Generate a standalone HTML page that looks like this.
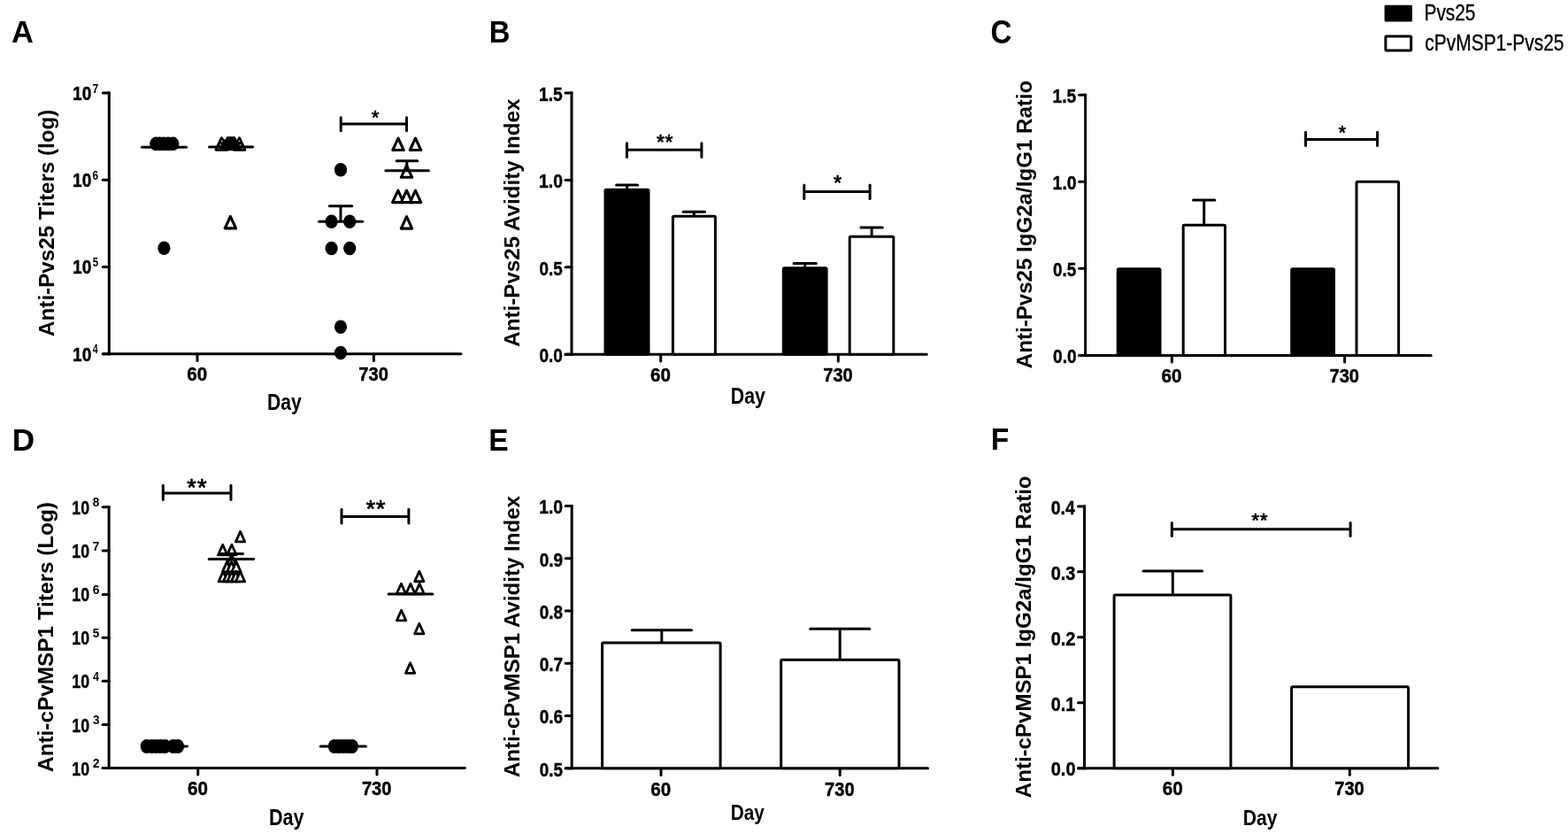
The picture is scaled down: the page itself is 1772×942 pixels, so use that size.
<!DOCTYPE html>
<html><head><meta charset="utf-8"><title>Anti-Pvs25 and anti-cPvMSP1 antibody responses</title>
<style>
html,body{margin:0;padding:0;background:#fff;}
body{width:1772px;height:942px;overflow:hidden;}
svg{display:block;}
svg text{font-family:"Liberation Sans", Arial, sans-serif;fill:#000;}
svg line{stroke:#000;}
svg rect,svg ellipse,svg path{fill:#000;}
svg .tri{fill:#fff;stroke:#000;stroke-linejoin:round;}
svg .wbar{fill:#fff;stroke:#000;stroke-linejoin:round;}
svg .bbar{fill:#000;stroke:#000;stroke-linejoin:round;}
svg .leg{stroke:#000;stroke-width:0.35px;}
svg .star{stroke:#000;stroke-width:0.7px;stroke-linejoin:round;}
</style></head>
<body>
<svg width="1772" height="942" viewBox="0 0 1772 942">
<rect width="1772" height="942" style="fill:#fff"/>
<text x="13.04" y="47.80" font-size="34.45" font-weight="bold" textLength="24.87" lengthAdjust="spacingAndGlyphs">A</text>
<line x1="123.30" y1="103.50" x2="123.30" y2="401.30" stroke-width="3.0" stroke-linecap="butt"/>
<line x1="116.30" y1="399.80" x2="521.10" y2="399.80" stroke-width="3.0" stroke-linecap="round"/>
<line x1="116.30" y1="399.80" x2="123.30" y2="399.80" stroke-width="3.0" stroke-linecap="round"/>
<line x1="116.30" y1="301.53" x2="123.30" y2="301.53" stroke-width="3.0" stroke-linecap="round"/>
<line x1="116.30" y1="203.27" x2="123.30" y2="203.27" stroke-width="3.0" stroke-linecap="round"/>
<line x1="116.30" y1="105.00" x2="123.30" y2="105.00" stroke-width="3.0" stroke-linecap="round"/>
<text x="82.12" y="407.51" font-size="22.39" font-weight="bold" textLength="21.35" lengthAdjust="spacingAndGlyphs" stroke="#000" stroke-width="0.45">10</text>
<text x="104.84" y="399.30" font-size="14.97" font-weight="bold" textLength="5.92" lengthAdjust="spacingAndGlyphs">4</text>
<text x="82.12" y="309.24" font-size="22.39" font-weight="bold" textLength="21.35" lengthAdjust="spacingAndGlyphs" stroke="#000" stroke-width="0.45">10</text>
<text x="104.65" y="300.89" font-size="14.76" font-weight="bold" textLength="6.37" lengthAdjust="spacingAndGlyphs">5</text>
<text x="82.12" y="210.97" font-size="22.39" font-weight="bold" textLength="21.35" lengthAdjust="spacingAndGlyphs" stroke="#000" stroke-width="0.45">10</text>
<text x="104.57" y="202.62" font-size="14.55" font-weight="bold" textLength="6.56" lengthAdjust="spacingAndGlyphs">6</text>
<text x="82.12" y="112.71" font-size="22.39" font-weight="bold" textLength="21.35" lengthAdjust="spacingAndGlyphs" stroke="#000" stroke-width="0.45">10</text>
<text x="104.48" y="104.50" font-size="14.97" font-weight="bold" textLength="6.76" lengthAdjust="spacingAndGlyphs">7</text>
<line x1="223.00" y1="399.80" x2="223.00" y2="407.40" stroke-width="3.0" stroke-linecap="round"/>
<line x1="422.40" y1="399.80" x2="422.40" y2="407.40" stroke-width="3.0" stroke-linecap="round"/>
<text x="211.27" y="429.55" font-size="22.53" font-weight="bold" textLength="22.95" lengthAdjust="spacingAndGlyphs" stroke="#000" stroke-width="0.45">60</text>
<text x="405.31" y="429.52" font-size="22.48" font-weight="bold" textLength="33.54" lengthAdjust="spacingAndGlyphs" stroke="#000" stroke-width="0.45">730</text>
<text x="301.99" y="462.76" font-size="25.24" font-weight="bold" textLength="38.62" lengthAdjust="spacingAndGlyphs">Day</text>
<text transform="translate(60.50,379.90) rotate(-90)" font-size="23.40" font-weight="bold" textLength="256.30" lengthAdjust="spacingAndGlyphs">Anti-Pvs25 Titers (log)</text>
<ellipse cx="176.30" cy="162.40" rx="7.1" ry="7.8"/>
<ellipse cx="180.50" cy="162.40" rx="7.1" ry="7.8"/>
<ellipse cx="185.00" cy="162.40" rx="7.1" ry="7.8"/>
<ellipse cx="190.00" cy="162.40" rx="7.1" ry="7.8"/>
<ellipse cx="195.30" cy="162.40" rx="7.1" ry="7.8"/>
<ellipse cx="185.40" cy="280.20" rx="7.1" ry="7.8"/>
<line x1="160.50" y1="166.20" x2="210.50" y2="166.20" stroke-width="3.0" stroke-linecap="round"/>
<path d="M250.30,155.79L244.11,169.20L256.50,169.20Z" class="tri" stroke-width="3.1"/>
<path d="M270.50,155.79L264.31,169.20L276.69,169.20Z" class="tri" stroke-width="3.1"/>
<path d="M244.2,170.3 L249.5,156.5 L252.8,156.5 L254.2,158.0 L256.3,154.2 L265.6,154.2 L267.6,158.0 L269.0,156.5 L272.0,156.5 L277.0,170.3 Z"/>
<circle cx="250.6" cy="159.4" r="1.0" fill="#aaa"/>
<circle cx="249.3" cy="164.0" r="1.0" fill="#aaa"/>
<circle cx="247.2" cy="167.4" r="1.0" fill="#aaa"/>
<circle cx="270.3" cy="159.4" r="1.0" fill="#aaa"/>
<circle cx="271.7" cy="164.0" r="1.0" fill="#aaa"/>
<circle cx="273.7" cy="167.4" r="1.0" fill="#aaa"/>
<path d="M260.40,244.49L254.20,257.90L266.59,257.90Z" class="tri" stroke-width="3.1"/>
<line x1="236.50" y1="166.00" x2="285.60" y2="166.00" stroke-width="3.0" stroke-linecap="round"/>
<ellipse cx="385.00" cy="191.70" rx="7.1" ry="7.8"/>
<ellipse cx="374.60" cy="250.30" rx="7.1" ry="7.8"/>
<ellipse cx="395.20" cy="250.30" rx="7.1" ry="7.8"/>
<ellipse cx="374.60" cy="280.50" rx="7.1" ry="7.8"/>
<ellipse cx="395.20" cy="280.50" rx="7.1" ry="7.8"/>
<ellipse cx="385.00" cy="369.20" rx="7.1" ry="7.8"/>
<ellipse cx="385.00" cy="398.50" rx="7.1" ry="7.8"/>
<line x1="360.50" y1="250.30" x2="409.70" y2="250.30" stroke-width="3.0" stroke-linecap="round"/>
<line x1="385.00" y1="250.30" x2="385.00" y2="232.70" stroke-width="3.0" stroke-linecap="butt"/>
<line x1="372.40" y1="232.70" x2="397.80" y2="232.70" stroke-width="3.0" stroke-linecap="round"/>
<path d="M450.00,156.09L443.81,169.50L456.19,169.50Z" class="tri" stroke-width="3.1"/>
<path d="M469.50,156.09L463.31,169.50L475.69,169.50Z" class="tri" stroke-width="3.1"/>
<path d="M459.50,186.89L453.31,200.30L465.69,200.30Z" class="tri" stroke-width="3.1"/>
<path d="M449.80,215.19L443.61,228.60L456.00,228.60Z" class="tri" stroke-width="3.1"/>
<path d="M459.50,215.19L453.31,228.60L465.69,228.60Z" class="tri" stroke-width="3.1"/>
<path d="M469.50,215.19L463.31,228.60L475.69,228.60Z" class="tri" stroke-width="3.1"/>
<path d="M459.50,244.69L453.31,258.10L465.69,258.10Z" class="tri" stroke-width="3.1"/>
<line x1="435.90" y1="192.80" x2="484.40" y2="192.80" stroke-width="3.0" stroke-linecap="round"/>
<line x1="459.80" y1="192.80" x2="459.80" y2="181.70" stroke-width="3.0" stroke-linecap="butt"/>
<line x1="448.20" y1="181.70" x2="471.70" y2="181.70" stroke-width="3.0" stroke-linecap="round"/>
<line x1="385.20" y1="139.90" x2="459.50" y2="139.90" stroke-width="3.0" stroke-linecap="butt"/>
<line x1="385.20" y1="132.80" x2="385.20" y2="147.80" stroke-width="3.0" stroke-linecap="round"/>
<line x1="459.50" y1="132.80" x2="459.50" y2="147.80" stroke-width="3.0" stroke-linecap="round"/>
<text x="419.79" y="140.14" font-size="22.22" font-weight="normal" letter-spacing="0.00" class="star">*</text>
<text x="552.71" y="47.80" font-size="34.45" font-weight="bold" textLength="23.68" lengthAdjust="spacingAndGlyphs">B</text>
<line x1="646.00" y1="103.50" x2="646.00" y2="401.80" stroke-width="3.0" stroke-linecap="butt"/>
<line x1="639.00" y1="400.30" x2="1047.10" y2="400.30" stroke-width="3.0" stroke-linecap="round"/>
<line x1="639.00" y1="105.00" x2="646.00" y2="105.00" stroke-width="3.0" stroke-linecap="round"/>
<line x1="639.00" y1="203.43" x2="646.00" y2="203.43" stroke-width="3.0" stroke-linecap="round"/>
<line x1="639.00" y1="301.87" x2="646.00" y2="301.87" stroke-width="3.0" stroke-linecap="round"/>
<line x1="639.00" y1="400.30" x2="646.00" y2="400.30" stroke-width="3.0" stroke-linecap="round"/>
<text x="609.02" y="113.75" font-size="22.86" font-weight="bold" textLength="26.69" lengthAdjust="spacingAndGlyphs" stroke="#000" stroke-width="0.45">1.5</text>
<text x="609.00" y="212.19" font-size="22.53" font-weight="bold" textLength="26.97" lengthAdjust="spacingAndGlyphs" stroke="#000" stroke-width="0.45">1.0</text>
<text x="609.48" y="310.62" font-size="22.53" font-weight="bold" textLength="26.22" lengthAdjust="spacingAndGlyphs" stroke="#000" stroke-width="0.45">0.5</text>
<text x="609.47" y="409.05" font-size="22.53" font-weight="bold" textLength="26.48" lengthAdjust="spacingAndGlyphs" stroke="#000" stroke-width="0.45">0.0</text>
<line x1="746.70" y1="400.30" x2="746.70" y2="407.90" stroke-width="3.0" stroke-linecap="round"/>
<line x1="947.30" y1="400.30" x2="947.30" y2="407.90" stroke-width="3.0" stroke-linecap="round"/>
<rect x="684.00" y="214.30" width="49.00" height="186.00" rx="1.2" class="bbar" stroke-width="3.0"/>
<rect x="760.40" y="244.20" width="48.00" height="156.10" rx="1.2" class="wbar" stroke-width="3.0"/>
<rect x="885.30" y="302.70" width="48.80" height="97.60" rx="1.2" class="bbar" stroke-width="3.0"/>
<rect x="960.20" y="267.20" width="49.60" height="133.10" rx="1.2" class="wbar" stroke-width="3.0"/>
<line x1="708.60" y1="212.80" x2="708.60" y2="209.00" stroke-width="3.0" stroke-linecap="butt"/>
<line x1="696.60" y1="209.00" x2="720.60" y2="209.00" stroke-width="3.0" stroke-linecap="round"/>
<line x1="784.30" y1="244.20" x2="784.30" y2="239.20" stroke-width="3.0" stroke-linecap="butt"/>
<line x1="772.10" y1="239.20" x2="796.50" y2="239.20" stroke-width="3.0" stroke-linecap="round"/>
<line x1="909.70" y1="301.30" x2="909.70" y2="297.40" stroke-width="3.0" stroke-linecap="butt"/>
<line x1="897.10" y1="297.40" x2="922.30" y2="297.40" stroke-width="3.0" stroke-linecap="round"/>
<line x1="985.10" y1="267.20" x2="985.10" y2="257.10" stroke-width="3.0" stroke-linecap="butt"/>
<line x1="972.90" y1="257.10" x2="997.30" y2="257.10" stroke-width="3.0" stroke-linecap="round"/>
<line x1="708.40" y1="169.30" x2="792.90" y2="169.30" stroke-width="3.0" stroke-linecap="butt"/>
<line x1="708.40" y1="161.80" x2="708.40" y2="177.60" stroke-width="3.0" stroke-linecap="round"/>
<line x1="792.90" y1="161.80" x2="792.90" y2="177.60" stroke-width="3.0" stroke-linecap="round"/>
<text x="742.08" y="169.02" font-size="23.07" font-weight="normal" letter-spacing="0.37" class="star">**</text>
<line x1="908.80" y1="216.50" x2="983.10" y2="216.50" stroke-width="3.0" stroke-linecap="butt"/>
<line x1="908.80" y1="209.00" x2="908.80" y2="224.60" stroke-width="3.0" stroke-linecap="round"/>
<line x1="983.10" y1="209.00" x2="983.10" y2="224.60" stroke-width="3.0" stroke-linecap="round"/>
<text x="941.97" y="215.42" font-size="23.64" font-weight="normal" letter-spacing="0.00" class="star">*</text>
<text x="734.97" y="430.95" font-size="22.53" font-weight="bold" textLength="22.95" lengthAdjust="spacingAndGlyphs" stroke="#000" stroke-width="0.45">60</text>
<text x="930.21" y="430.92" font-size="22.48" font-weight="bold" textLength="33.54" lengthAdjust="spacingAndGlyphs" stroke="#000" stroke-width="0.45">730</text>
<text x="825.77" y="455.96" font-size="25.24" font-weight="bold" textLength="39.14" lengthAdjust="spacingAndGlyphs">Day</text>
<text transform="translate(586.50,391.70) rotate(-90)" font-size="23.55" font-weight="bold" textLength="280.17" lengthAdjust="spacingAndGlyphs">Anti-Pvs25 Avidity Index</text>
<text x="1119.54" y="48.64" font-size="36.86" font-weight="bold" textLength="23.97" lengthAdjust="spacingAndGlyphs">C</text>
<line x1="1226.60" y1="105.70" x2="1226.60" y2="402.90" stroke-width="3.0" stroke-linecap="butt"/>
<line x1="1219.60" y1="401.40" x2="1617.20" y2="401.40" stroke-width="3.0" stroke-linecap="round"/>
<line x1="1219.60" y1="107.20" x2="1226.60" y2="107.20" stroke-width="3.0" stroke-linecap="round"/>
<line x1="1219.60" y1="205.27" x2="1226.60" y2="205.27" stroke-width="3.0" stroke-linecap="round"/>
<line x1="1219.60" y1="303.33" x2="1226.60" y2="303.33" stroke-width="3.0" stroke-linecap="round"/>
<line x1="1219.60" y1="401.40" x2="1226.60" y2="401.40" stroke-width="3.0" stroke-linecap="round"/>
<text x="1189.62" y="115.95" font-size="22.86" font-weight="bold" textLength="26.69" lengthAdjust="spacingAndGlyphs" stroke="#000" stroke-width="0.45">1.5</text>
<text x="1189.60" y="214.02" font-size="22.53" font-weight="bold" textLength="26.97" lengthAdjust="spacingAndGlyphs" stroke="#000" stroke-width="0.45">1.0</text>
<text x="1190.08" y="312.09" font-size="22.53" font-weight="bold" textLength="26.22" lengthAdjust="spacingAndGlyphs" stroke="#000" stroke-width="0.45">0.5</text>
<text x="1190.07" y="410.15" font-size="22.53" font-weight="bold" textLength="26.48" lengthAdjust="spacingAndGlyphs" stroke="#000" stroke-width="0.45">0.0</text>
<line x1="1324.30" y1="401.40" x2="1324.30" y2="409.00" stroke-width="3.0" stroke-linecap="round"/>
<line x1="1519.60" y1="401.40" x2="1519.60" y2="409.00" stroke-width="3.0" stroke-linecap="round"/>
<rect x="1263.20" y="303.80" width="47.80" height="97.60" rx="1.2" class="bbar" stroke-width="3.0"/>
<rect x="1337.20" y="254.30" width="47.30" height="147.10" rx="1.2" class="wbar" stroke-width="3.0"/>
<rect x="1459.70" y="303.70" width="47.80" height="97.70" rx="1.2" class="bbar" stroke-width="3.0"/>
<rect x="1533.00" y="205.27" width="47.60" height="196.13" rx="1.2" class="wbar" stroke-width="3.0"/>
<line x1="1360.70" y1="254.30" x2="1360.70" y2="226.10" stroke-width="3.0" stroke-linecap="butt"/>
<line x1="1348.50" y1="226.10" x2="1372.90" y2="226.10" stroke-width="3.0" stroke-linecap="round"/>
<line x1="1475.50" y1="157.60" x2="1556.60" y2="157.60" stroke-width="3.0" stroke-linecap="butt"/>
<line x1="1475.50" y1="149.20" x2="1475.50" y2="164.60" stroke-width="3.0" stroke-linecap="round"/>
<line x1="1556.60" y1="149.20" x2="1556.60" y2="164.60" stroke-width="3.0" stroke-linecap="round"/>
<text x="1512.49" y="157.04" font-size="22.22" font-weight="normal" letter-spacing="0.00" class="star">*</text>
<text x="1312.57" y="431.75" font-size="22.53" font-weight="bold" textLength="22.95" lengthAdjust="spacingAndGlyphs" stroke="#000" stroke-width="0.45">60</text>
<text x="1502.51" y="431.72" font-size="22.48" font-weight="bold" textLength="33.54" lengthAdjust="spacingAndGlyphs" stroke="#000" stroke-width="0.45">730</text>
<text transform="translate(1165.60,416.20) rotate(-90)" font-size="23.84" font-weight="bold" textLength="325.44" lengthAdjust="spacingAndGlyphs">Anti-Pvs25 IgG2a/IgG1 Ratio</text>
<rect x="1564.6" y="5.8" width="31.4" height="18.6" rx="1.5"/>
<rect x="1565.9" y="41.0" width="28.8" height="16.0" rx="1" class="wbar" stroke-width="3.0"/>
<text x="1609.49" y="23.05" font-size="25.85" font-weight="normal" textLength="57.99" lengthAdjust="spacingAndGlyphs" class="leg">Pvs25</text>
<text x="1610.31" y="56.55" font-size="25.85" font-weight="normal" textLength="157.17" lengthAdjust="spacingAndGlyphs" class="leg">cPvMSP1-Pvs25</text>
<text x="13.74" y="508.60" font-size="35.03" font-weight="bold" textLength="25.44" lengthAdjust="spacingAndGlyphs">D</text>
<line x1="123.10" y1="571.30" x2="123.10" y2="869.00" stroke-width="3.0" stroke-linecap="butt"/>
<line x1="116.10" y1="867.50" x2="525.30" y2="867.50" stroke-width="3.0" stroke-linecap="round"/>
<line x1="116.10" y1="867.50" x2="123.10" y2="867.50" stroke-width="3.0" stroke-linecap="round"/>
<line x1="116.10" y1="818.50" x2="123.10" y2="818.50" stroke-width="3.0" stroke-linecap="round"/>
<line x1="116.10" y1="769.20" x2="123.10" y2="769.20" stroke-width="3.0" stroke-linecap="round"/>
<line x1="116.10" y1="720.30" x2="123.10" y2="720.30" stroke-width="3.0" stroke-linecap="round"/>
<line x1="116.10" y1="671.40" x2="123.10" y2="671.40" stroke-width="3.0" stroke-linecap="round"/>
<line x1="116.10" y1="622.00" x2="123.10" y2="622.00" stroke-width="3.0" stroke-linecap="round"/>
<line x1="116.10" y1="572.80" x2="123.10" y2="572.80" stroke-width="3.0" stroke-linecap="round"/>
<text x="81.30" y="875.56" font-size="21.68" font-weight="bold" textLength="19.80" lengthAdjust="spacingAndGlyphs" stroke="#000" stroke-width="0.45">10</text>
<text x="104.72" y="867.30" font-size="14.04" font-weight="bold" textLength="7.74" lengthAdjust="spacingAndGlyphs">2</text>
<text x="81.30" y="826.56" font-size="21.68" font-weight="bold" textLength="19.80" lengthAdjust="spacingAndGlyphs" stroke="#000" stroke-width="0.45">10</text>
<text x="104.89" y="818.14" font-size="13.81" font-weight="bold" textLength="7.50" lengthAdjust="spacingAndGlyphs">3</text>
<text x="81.30" y="777.26" font-size="21.68" font-weight="bold" textLength="19.80" lengthAdjust="spacingAndGlyphs" stroke="#000" stroke-width="0.45">10</text>
<text x="105.01" y="769.00" font-size="14.24" font-weight="bold" textLength="6.96" lengthAdjust="spacingAndGlyphs">4</text>
<text x="81.30" y="728.36" font-size="21.68" font-weight="bold" textLength="19.80" lengthAdjust="spacingAndGlyphs" stroke="#000" stroke-width="0.45">10</text>
<text x="104.79" y="719.96" font-size="14.05" font-weight="bold" textLength="7.49" lengthAdjust="spacingAndGlyphs">5</text>
<text x="81.30" y="679.46" font-size="21.68" font-weight="bold" textLength="19.80" lengthAdjust="spacingAndGlyphs" stroke="#000" stroke-width="0.45">10</text>
<text x="104.69" y="671.06" font-size="13.84" font-weight="bold" textLength="7.71" lengthAdjust="spacingAndGlyphs">6</text>
<text x="81.30" y="630.06" font-size="21.68" font-weight="bold" textLength="19.80" lengthAdjust="spacingAndGlyphs" stroke="#000" stroke-width="0.45">10</text>
<text x="104.59" y="621.80" font-size="14.24" font-weight="bold" textLength="7.94" lengthAdjust="spacingAndGlyphs">7</text>
<text x="81.30" y="580.86" font-size="21.68" font-weight="bold" textLength="19.80" lengthAdjust="spacingAndGlyphs" stroke="#000" stroke-width="0.45">10</text>
<text x="104.77" y="572.46" font-size="13.84" font-weight="bold" textLength="7.55" lengthAdjust="spacingAndGlyphs">8</text>
<line x1="223.70" y1="867.50" x2="223.70" y2="875.10" stroke-width="3.0" stroke-linecap="round"/>
<line x1="426.00" y1="867.50" x2="426.00" y2="875.10" stroke-width="3.0" stroke-linecap="round"/>
<text x="211.97" y="898.15" font-size="22.53" font-weight="bold" textLength="22.95" lengthAdjust="spacingAndGlyphs" stroke="#000" stroke-width="0.45">60</text>
<text x="408.91" y="898.12" font-size="22.48" font-weight="bold" textLength="33.54" lengthAdjust="spacingAndGlyphs" stroke="#000" stroke-width="0.45">730</text>
<text x="303.95" y="931.56" font-size="25.24" font-weight="bold" textLength="39.66" lengthAdjust="spacingAndGlyphs">Day</text>
<text transform="translate(59.70,871.90) rotate(-90)" font-size="23.98" font-weight="bold" textLength="304.81" lengthAdjust="spacingAndGlyphs">Anti-cPvMSP1 Titers (Log)</text>
<ellipse cx="165.80" cy="843.00" rx="7.1" ry="8.1"/>
<ellipse cx="171.50" cy="843.00" rx="7.1" ry="8.1"/>
<ellipse cx="176.50" cy="843.00" rx="7.1" ry="8.1"/>
<ellipse cx="181.50" cy="843.00" rx="7.1" ry="8.1"/>
<ellipse cx="186.40" cy="843.00" rx="7.1" ry="8.1"/>
<ellipse cx="195.70" cy="843.00" rx="7.1" ry="8.1"/>
<ellipse cx="201.00" cy="843.00" rx="7.1" ry="8.1"/>
<line x1="161.00" y1="843.10" x2="211.50" y2="843.10" stroke-width="3.0" stroke-linecap="round"/>
<path d="M271.60,600.40L266.44,611.95L276.76,611.95Z" class="tri" stroke-width="2.8"/>
<path d="M251.70,615.20L246.54,626.75L256.86,626.75Z" class="tri" stroke-width="2.8"/>
<path d="M261.90,615.20L256.74,626.75L267.06,626.75Z" class="tri" stroke-width="2.8"/>
<path d="M261.70,626.40L256.54,637.95L266.86,637.95Z" class="tri" stroke-width="2.8"/>
<path d="M256.50,634.40L251.34,645.95L261.66,645.95Z" class="tri" stroke-width="2.8"/>
<path d="M261.70,634.40L256.54,645.95L266.86,645.95Z" class="tri" stroke-width="2.8"/>
<path d="M267.00,634.40L261.84,645.95L272.16,645.95Z" class="tri" stroke-width="2.8"/>
<path d="M252.20,645.40L247.04,656.95L257.36,656.95Z" class="tri" stroke-width="2.8"/>
<path d="M257.50,645.40L252.34,656.95L262.66,656.95Z" class="tri" stroke-width="2.8"/>
<path d="M262.00,645.40L256.84,656.95L267.16,656.95Z" class="tri" stroke-width="2.8"/>
<path d="M266.50,645.40L261.34,656.95L271.66,656.95Z" class="tri" stroke-width="2.8"/>
<path d="M271.50,645.40L266.34,656.95L276.66,656.95Z" class="tri" stroke-width="2.8"/>
<line x1="236.20" y1="631.60" x2="286.70" y2="631.60" stroke-width="3.0" stroke-linecap="round"/>
<line x1="261.70" y1="631.60" x2="261.70" y2="625.60" stroke-width="3.0" stroke-linecap="butt"/>
<line x1="249.20" y1="625.60" x2="274.50" y2="625.60" stroke-width="3.0" stroke-linecap="round"/>
<line x1="184.30" y1="556.90" x2="261.00" y2="556.90" stroke-width="3.0" stroke-linecap="butt"/>
<line x1="184.30" y1="548.20" x2="184.30" y2="564.50" stroke-width="3.0" stroke-linecap="round"/>
<line x1="261.00" y1="548.20" x2="261.00" y2="564.50" stroke-width="3.0" stroke-linecap="round"/>
<text x="211.31" y="559.67" font-size="27.06" font-weight="normal" letter-spacing="1.10" class="star">**</text>
<ellipse cx="377.90" cy="843.00" rx="7.1" ry="8.1"/>
<ellipse cx="382.80" cy="843.00" rx="7.1" ry="8.1"/>
<ellipse cx="388.00" cy="843.00" rx="7.1" ry="8.1"/>
<ellipse cx="393.20" cy="843.00" rx="7.1" ry="8.1"/>
<ellipse cx="397.90" cy="843.00" rx="7.1" ry="8.1"/>
<line x1="362.30" y1="843.10" x2="413.50" y2="843.10" stroke-width="3.0" stroke-linecap="round"/>
<path d="M473.80,645.20L468.64,656.75L478.96,656.75Z" class="tri" stroke-width="2.8"/>
<path d="M453.40,659.20L448.24,670.75L458.56,670.75Z" class="tri" stroke-width="2.8"/>
<path d="M464.00,659.20L458.84,670.75L469.16,670.75Z" class="tri" stroke-width="2.8"/>
<path d="M474.10,659.20L468.94,670.75L479.26,670.75Z" class="tri" stroke-width="2.8"/>
<path d="M453.60,689.30L448.44,700.85L458.76,700.85Z" class="tri" stroke-width="2.8"/>
<path d="M473.80,704.30L468.64,715.85L478.96,715.85Z" class="tri" stroke-width="2.8"/>
<path d="M463.60,748.80L458.44,760.35L468.76,760.35Z" class="tri" stroke-width="2.8"/>
<line x1="439.10" y1="671.10" x2="488.90" y2="671.10" stroke-width="3.0" stroke-linecap="round"/>
<line x1="386.00" y1="583.50" x2="461.90" y2="583.50" stroke-width="3.0" stroke-linecap="butt"/>
<line x1="386.00" y1="575.30" x2="386.00" y2="591.10" stroke-width="3.0" stroke-linecap="round"/>
<line x1="461.90" y1="575.30" x2="461.90" y2="591.10" stroke-width="3.0" stroke-linecap="round"/>
<text x="413.50" y="583.56" font-size="27.63" font-weight="normal" letter-spacing="0.47" class="star">**</text>
<text x="552.26" y="508.60" font-size="35.03" font-weight="bold" textLength="22.35" lengthAdjust="spacingAndGlyphs">E</text>
<line x1="646.20" y1="570.00" x2="646.20" y2="869.30" stroke-width="3.0" stroke-linecap="butt"/>
<line x1="639.20" y1="867.80" x2="1048.50" y2="867.80" stroke-width="3.0" stroke-linecap="round"/>
<line x1="639.20" y1="571.50" x2="646.20" y2="571.50" stroke-width="3.0" stroke-linecap="round"/>
<line x1="639.20" y1="630.76" x2="646.20" y2="630.76" stroke-width="3.0" stroke-linecap="round"/>
<line x1="639.20" y1="690.02" x2="646.20" y2="690.02" stroke-width="3.0" stroke-linecap="round"/>
<line x1="639.20" y1="749.28" x2="646.20" y2="749.28" stroke-width="3.0" stroke-linecap="round"/>
<line x1="639.20" y1="808.54" x2="646.20" y2="808.54" stroke-width="3.0" stroke-linecap="round"/>
<line x1="639.20" y1="867.80" x2="646.20" y2="867.80" stroke-width="3.0" stroke-linecap="round"/>
<text x="609.20" y="580.25" font-size="22.53" font-weight="bold" textLength="26.97" lengthAdjust="spacingAndGlyphs" stroke="#000" stroke-width="0.45">1.0</text>
<text x="609.67" y="639.51" font-size="22.53" font-weight="bold" textLength="26.41" lengthAdjust="spacingAndGlyphs" stroke="#000" stroke-width="0.45">0.9</text>
<text x="609.68" y="698.77" font-size="22.53" font-weight="bold" textLength="26.28" lengthAdjust="spacingAndGlyphs" stroke="#000" stroke-width="0.45">0.8</text>
<text x="609.67" y="758.03" font-size="22.53" font-weight="bold" textLength="26.54" lengthAdjust="spacingAndGlyphs" stroke="#000" stroke-width="0.45">0.7</text>
<text x="609.67" y="817.29" font-size="22.53" font-weight="bold" textLength="26.39" lengthAdjust="spacingAndGlyphs" stroke="#000" stroke-width="0.45">0.6</text>
<text x="609.68" y="876.55" font-size="22.53" font-weight="bold" textLength="26.22" lengthAdjust="spacingAndGlyphs" stroke="#000" stroke-width="0.45">0.5</text>
<line x1="747.00" y1="867.80" x2="747.00" y2="875.40" stroke-width="3.0" stroke-linecap="round"/>
<line x1="949.20" y1="867.80" x2="949.20" y2="875.40" stroke-width="3.0" stroke-linecap="round"/>
<rect x="680.60" y="726.10" width="133.50" height="141.70" rx="1.2" class="wbar" stroke-width="3.0"/>
<rect x="882.70" y="745.20" width="133.30" height="122.60" rx="1.2" class="wbar" stroke-width="3.0"/>
<line x1="747.80" y1="726.10" x2="747.80" y2="711.70" stroke-width="3.0" stroke-linecap="butt"/>
<line x1="714.10" y1="711.70" x2="781.50" y2="711.70" stroke-width="3.0" stroke-linecap="round"/>
<line x1="949.20" y1="745.20" x2="949.20" y2="710.20" stroke-width="3.0" stroke-linecap="butt"/>
<line x1="915.80" y1="710.20" x2="982.60" y2="710.20" stroke-width="3.0" stroke-linecap="round"/>
<text x="735.27" y="898.85" font-size="22.53" font-weight="bold" textLength="22.95" lengthAdjust="spacingAndGlyphs" stroke="#000" stroke-width="0.45">60</text>
<text x="932.11" y="898.82" font-size="22.48" font-weight="bold" textLength="33.54" lengthAdjust="spacingAndGlyphs" stroke="#000" stroke-width="0.45">730</text>
<text x="825.71" y="925.80" font-size="24.57" font-weight="bold" textLength="38.21" lengthAdjust="spacingAndGlyphs">Day</text>
<text transform="translate(586.70,878.10) rotate(-90)" font-size="23.84" font-weight="bold" textLength="318.07" lengthAdjust="spacingAndGlyphs">Anti-cPvMSP1 Avidity Index</text>
<text x="1119.66" y="508.40" font-size="34.74" font-weight="bold" textLength="20.47" lengthAdjust="spacingAndGlyphs">F</text>
<line x1="1225.50" y1="570.40" x2="1225.50" y2="869.20" stroke-width="3.0" stroke-linecap="butt"/>
<line x1="1218.50" y1="867.70" x2="1624.90" y2="867.70" stroke-width="3.0" stroke-linecap="round"/>
<line x1="1218.50" y1="571.90" x2="1225.50" y2="571.90" stroke-width="3.0" stroke-linecap="round"/>
<line x1="1218.50" y1="645.85" x2="1225.50" y2="645.85" stroke-width="3.0" stroke-linecap="round"/>
<line x1="1218.50" y1="719.80" x2="1225.50" y2="719.80" stroke-width="3.0" stroke-linecap="round"/>
<line x1="1218.50" y1="793.75" x2="1225.50" y2="793.75" stroke-width="3.0" stroke-linecap="round"/>
<line x1="1218.50" y1="867.70" x2="1225.50" y2="867.70" stroke-width="3.0" stroke-linecap="round"/>
<text x="1187.76" y="580.65" font-size="22.53" font-weight="bold" textLength="27.02" lengthAdjust="spacingAndGlyphs" stroke="#000" stroke-width="0.45">0.4</text>
<text x="1187.74" y="654.57" font-size="22.48" font-weight="bold" textLength="27.66" lengthAdjust="spacingAndGlyphs" stroke="#000" stroke-width="0.45">0.3</text>
<text x="1187.74" y="728.55" font-size="22.53" font-weight="bold" textLength="27.74" lengthAdjust="spacingAndGlyphs" stroke="#000" stroke-width="0.45">0.2</text>
<text x="1187.74" y="802.50" font-size="22.53" font-weight="bold" textLength="27.48" lengthAdjust="spacingAndGlyphs" stroke="#000" stroke-width="0.45">0.1</text>
<text x="1187.74" y="876.46" font-size="22.53" font-weight="bold" textLength="27.76" lengthAdjust="spacingAndGlyphs" stroke="#000" stroke-width="0.45">0.0</text>
<line x1="1325.40" y1="867.70" x2="1325.40" y2="875.30" stroke-width="3.0" stroke-linecap="round"/>
<line x1="1525.30" y1="867.70" x2="1525.30" y2="875.30" stroke-width="3.0" stroke-linecap="round"/>
<rect x="1259.10" y="672.10" width="131.80" height="195.60" rx="1.2" class="wbar" stroke-width="3.0"/>
<rect x="1459.60" y="775.80" width="132.00" height="91.90" rx="1.2" class="wbar" stroke-width="3.0"/>
<line x1="1325.30" y1="672.10" x2="1325.30" y2="644.90" stroke-width="3.0" stroke-linecap="butt"/>
<line x1="1292.00" y1="644.90" x2="1358.60" y2="644.90" stroke-width="3.0" stroke-linecap="round"/>
<line x1="1324.30" y1="597.80" x2="1526.10" y2="597.80" stroke-width="3.0" stroke-linecap="butt"/>
<line x1="1324.30" y1="590.50" x2="1324.30" y2="605.60" stroke-width="3.0" stroke-linecap="round"/>
<line x1="1526.10" y1="590.50" x2="1526.10" y2="605.60" stroke-width="3.0" stroke-linecap="round"/>
<text x="1414.28" y="595.23" font-size="22.79" font-weight="normal" letter-spacing="0.69" class="star">**</text>
<text x="1313.67" y="898.05" font-size="22.53" font-weight="bold" textLength="22.95" lengthAdjust="spacingAndGlyphs" stroke="#000" stroke-width="0.45">60</text>
<text x="1508.21" y="898.02" font-size="22.48" font-weight="bold" textLength="33.54" lengthAdjust="spacingAndGlyphs" stroke="#000" stroke-width="0.45">730</text>
<text x="1404.79" y="931.93" font-size="24.46" font-weight="bold" textLength="38.62" lengthAdjust="spacingAndGlyphs">Day</text>
<text transform="translate(1164.80,901.20) rotate(-90)" font-size="23.98" font-weight="bold" textLength="363.74" lengthAdjust="spacingAndGlyphs">Anti-cPvMSP1 IgG2a/IgG1 Ratio</text>
</svg>
</body></html>
